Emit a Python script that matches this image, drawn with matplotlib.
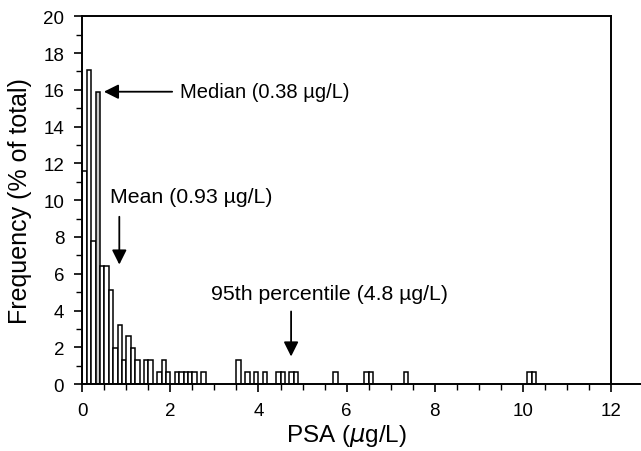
import matplotlib
matplotlib.use("Agg")
import matplotlib.pyplot as plt
from matplotlib.ticker import MultipleLocator

plt.rcParams['font.family'] = ['Liberation Sans', 'DejaVu Sans']

# Histogram data: left edge of each 0.1 µg/L bin and frequency (% of total)
bin_left = [0.0, 0.1, 0.2, 0.3, 0.4, 0.5, 0.6, 0.7, 0.8, 0.9, 1.0, 1.1, 1.2,
            1.4, 1.5, 1.7, 1.8, 1.9, 2.1, 2.2, 2.3, 2.4, 2.5, 2.7,
            3.5, 3.7, 3.9, 4.1, 4.4, 4.5, 4.7, 4.8,
            5.7, 6.4, 6.5, 7.3, 10.1, 10.2]
freq = [11.6, 17.1, 7.8, 15.9, 6.4, 6.4, 5.1, 1.95, 3.2, 1.3, 2.6, 1.95, 1.3,
        1.3, 1.3, 0.65, 1.3, 0.65, 0.65, 0.65, 0.65, 0.65, 0.65, 0.65,
        1.3, 0.65, 0.65, 0.65, 0.65, 0.65, 0.65, 0.65,
        0.65, 0.65, 0.65, 0.65, 0.65, 0.65]
bin_width = 0.1
median_bin = 0.3

median_val = 0.38
mean_val = 0.93
p95_val = 4.8

fig = plt.figure(figsize=(6.41, 4.52), dpi=100)
ax = fig.add_axes([0.1284, 0.148, 0.8246, 0.8137])

for left, h in zip(bin_left, freq):
    fc = '#c8c8c8' if abs(left - median_bin) < 1e-9 else 'white'
    ax.bar(left, h, width=bin_width, align='edge', facecolor=fc,
           edgecolor='black', linewidth=1.1, zorder=2)

ax.set_xlim(0, 12)
ax.set_ylim(0, 20)
ax.xaxis.set_major_locator(MultipleLocator(2))
ax.xaxis.set_minor_locator(MultipleLocator(0.5))
ax.yaxis.set_major_locator(MultipleLocator(2))
ax.yaxis.set_minor_locator(MultipleLocator(1))
ax.tick_params(which='major', direction='out', length=6, width=1.2, labelsize=13.5, pad=7)
ax.tick_params(which='minor', direction='out', length=4, width=1.0)
for s in ax.spines.values():
    s.set_linewidth(1.4)

# extend x-axis line beyond 12
ax.plot([12, 12.75], [0, 0], color='black', lw=1.4, clip_on=False, zorder=3)

ax.set_xlabel('PSA ($\\mu$g/L)', fontsize=17.5, labelpad=2)
ax.set_ylabel('Frequency (% of total)', fontsize=18, labelpad=8)

arrow = dict(arrowstyle='-|>', mutation_scale=22, lw=1.3, color='black',
             shrinkA=0, shrinkB=0)

ax.annotate('', xy=(0.49, 15.9), xytext=(2.04, 15.9), arrowprops=arrow)
ax.text(2.22, 15.9, f'Median ({median_val} µg/L)', fontsize=14.5, va='center', ha='left')

ax.annotate('', xy=(0.84, 6.5), xytext=(0.84, 9.1), arrowprops=arrow)
ax.text(0.63, 10.2, f'Mean ({mean_val} µg/L)', fontsize=15.3, va='center', ha='left')

ax.annotate('', xy=(4.74, 1.5), xytext=(4.74, 3.95), arrowprops=arrow)
ax.text(2.92, 4.9, f'95th percentile ({p95_val} µg/L)', fontsize=15.3, va='center', ha='left')

fig.savefig('out.png', dpi=100)
